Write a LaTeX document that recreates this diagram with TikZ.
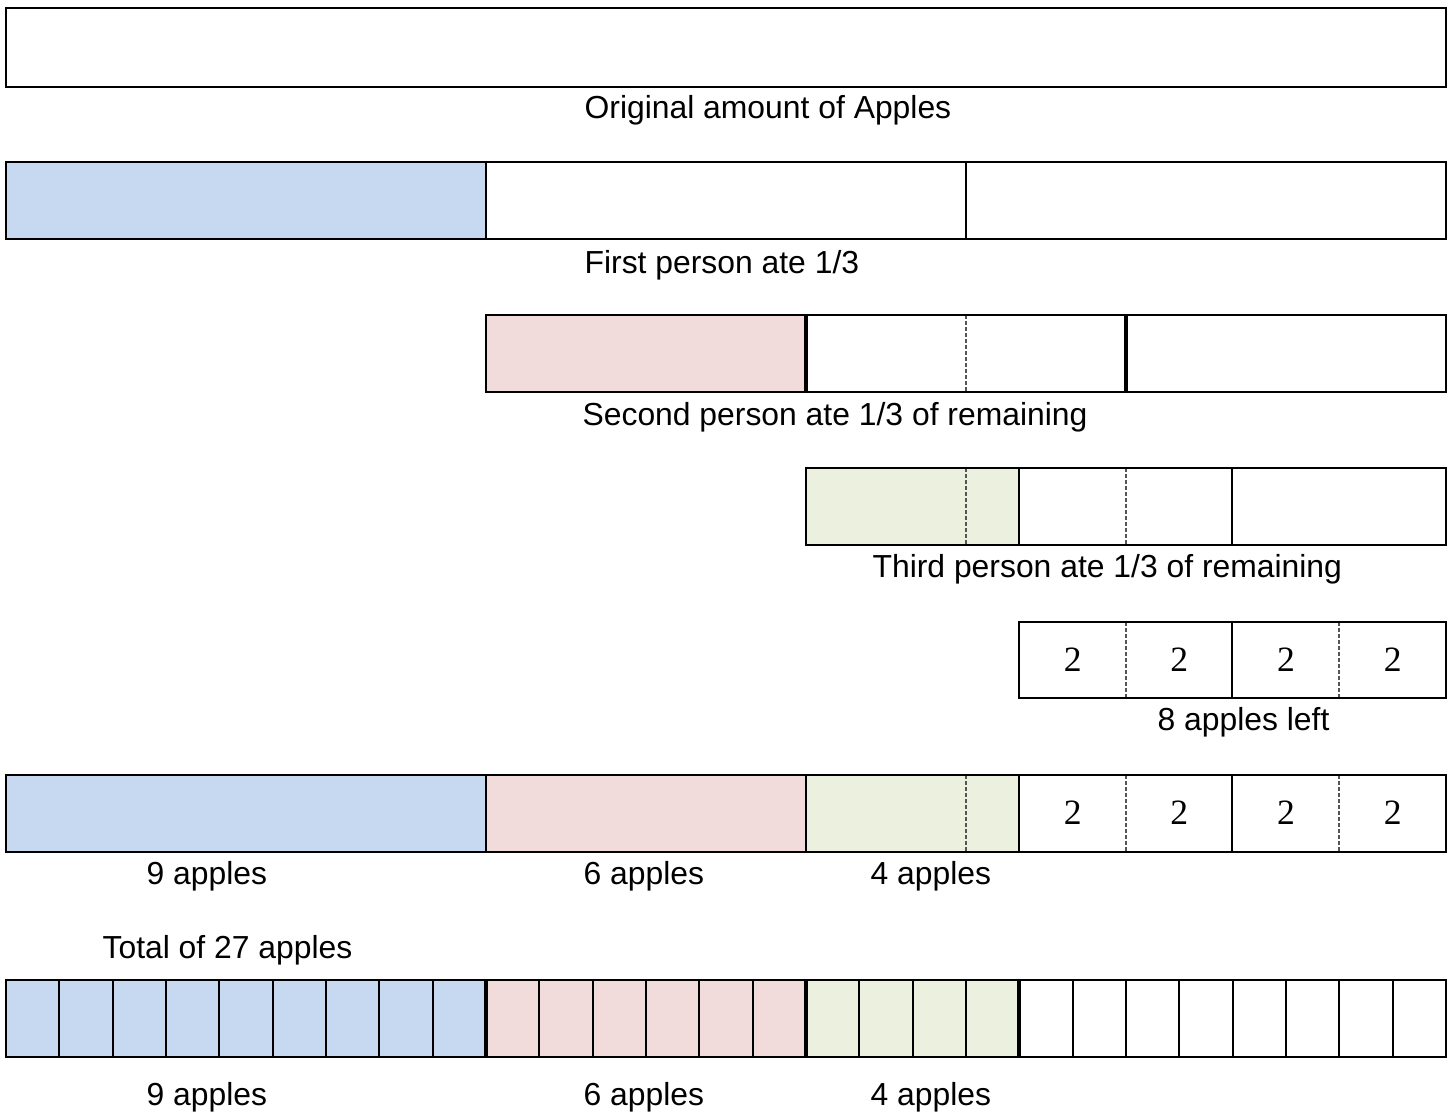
\documentclass[tikz,border=0pt]{standalone}
\usepackage{fontspec}
\setmainfont{Liberation Sans}
\newfontfamily\serifnum{Liberation Serif}
\usetikzlibrary{calc}
\definecolor{blueate}{HTML}{C6D9F1}
\definecolor{pinkate}{HTML}{F2DCDB}
\definecolor{greenate}{HTML}{EBF1DE}
\definecolor{dashgray}{HTML}{555555}
\newcommand{\cellw}{53.333}
\tikzset{
  bar/.style={draw=black,line width=1.4pt},
  cut/.style={line width=1.2pt},
  bigcut/.style={line width=2.3pt},
  halfcut/.style={draw=dashgray,line width=1pt,dash pattern=on 2.2pt off 1pt},
  lbl/.style={anchor=base west,font=\fontsize{17}{20}\selectfont},
  two/.style={font=\serifnum\fontsize{19}{22}\selectfont}
}

\begin{document}
\begin{tikzpicture}[x=0.01875cm,y=-0.01875cm]
      \useasboundingbox (0,0) rectangle (1452,1115);

      % whole amount
      \draw [bar] (6,8) rectangle (1446,87);
      \node [lbl, name=orig] at (578,118) {Original amount of Apples};

      % first person
      \fill [blueate] (6,162) rectangle (486,239);
      \draw [cut] (486,162) -- (486,239);
      \draw [cut] (966,162) -- (966,239);
      \draw [bar] (6,162) rectangle (1446,239);
      \node [lbl, name=first] at (578,273) {First person ate 1/3};

      % second person
      \fill [pinkate] (486,315) rectangle (806,392);
      \draw [halfcut] (966,315) -- (966,392);
      \draw [bigcut] (806,315) -- (806,392);
      \draw [bigcut] (1126,315) -- (1126,392);
      \draw [bar] (486,315) rectangle (1446,392);
      \node [lbl, name=second] at (576,425) {Second person ate 1/3 of remaining};

      % third person
      \fill [greenate] (806,468) rectangle (1019,545);
      \draw [halfcut] (966,468) -- (966,545);
      \draw [halfcut] (1126,468) -- (1126,545);
      \draw [cut] (1019,468) -- (1019,545);
      \draw [cut] (1232,468) -- (1232,545);
      \draw [bar] (806,468) rectangle (1446,545);
      \node [lbl, name=third] at (866,577) {Third person ate 1/3 of remaining};

      % what is left
      \draw [halfcut] (1126,622) -- (1126,698);
      \draw [halfcut] (1339,622) -- (1339,698);
      \draw [cut] (1232,622) -- (1232,698);
      \draw [bar] (1019,622) rectangle (1446,698);
      \foreach \i in {0,...,3}
        \node [two, name=left\i] at ({6+(20+2*\i)*\cellw},660) {2};
      \node [lbl, name=leftover] at (1151,730) {8 apples left};

      % all together
      \fill [blueate] (6,775) rectangle (486,852);
      \fill [pinkate] (486,775) rectangle (806,852);
      \fill [greenate] (806,775) rectangle (1019,852);
      \foreach \x in {966,1126,1339}
        \draw [halfcut] (\x,775) -- (\x,852);
      \foreach \x in {486,806,1019,1232}
        \draw [cut] (\x,775) -- (\x,852);
      \draw [bar] (6,775) rectangle (1446,852);
      \foreach \i in {0,...,3}
        \node [two, name=all\i] at ({6+(20+2*\i)*\cellw},813) {2};
      \node [lbl, name=nineA] at (140,884) {9 apples};
      \node [lbl, name=sixA] at (577,884) {6 apples};
      \node [lbl, name=fourA] at (864,884) {4 apples};

      \node [lbl, name=total] at (96,958) {Total of 27 apples};

      % one cell per apple
      \fill [blueate] (6,980) rectangle ({6+9*\cellw},1057);
      \fill [pinkate] ({6+9*\cellw},980) rectangle ({6+15*\cellw},1057);
      \fill [greenate] ({6+15*\cellw},980) rectangle ({6+19*\cellw},1057);
      \foreach \k in {1,...,26}
        \draw [cut] ({6+\k*\cellw},980) -- ({6+\k*\cellw},1057);
      \foreach \k in {9,15,19}
        \draw [bigcut] ({6+\k*\cellw},980) -- ({6+\k*\cellw},1057);
      \draw [bar] (6,980) rectangle (1446,1057);
      \node [lbl, name=nineB] at (140,1105) {9 apples};
      \node [lbl, name=sixB] at (577,1105) {6 apples};
      \node [lbl, name=fourB] at (864,1105) {4 apples};

    \end{tikzpicture}
\end{document}
